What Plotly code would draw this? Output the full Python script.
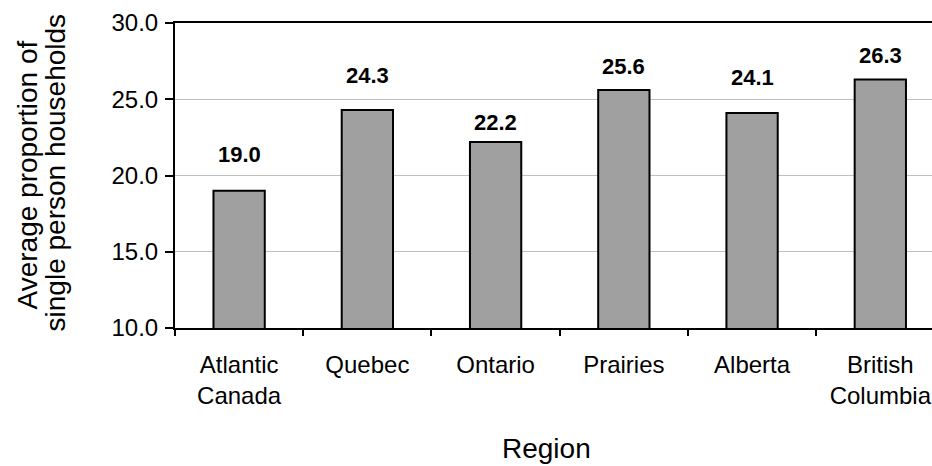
import plotly.graph_objects as go

regions = ["Atlantic<br>Canada", "Quebec", "Ontario", "Prairies", "Alberta", "British<br>Columbia"]
values = [19.0, 24.3, 22.2, 25.6, 24.1, 26.3]
value_labels = ["19.0", "24.3", "22.2", "25.6", "24.1", "26.3"]
y_ticks = [10, 15, 20, 25, 30]
y_tick_labels = ["10.0", "15.0", "20.0", "25.0", "30.0"]

# style: vertical pixel offsets of the value labels above the bars
label_shift = [22, 20, 5, 9, 21, 9]

FONT = "Arial, 'Liberation Sans', sans-serif"

fig = go.Figure()
fig.add_trace(go.Bar(
    x=regions, y=values, width=0.4,
    marker=dict(color="#a0a0a0", line=dict(color="#000000", width=2)),
    hoverinfo="skip",
))

for r, v, lab, s in zip(regions, values, value_labels, label_shift):
    fig.add_annotation(x=r, y=v, xref="x", yref="y", text="<b>%s</b>" % lab,
                       showarrow=False, yanchor="bottom", yshift=s,
                       font=dict(family=FONT, size=22, color="#000"))

W, H = 932, 466
L, R, T, B = 175, 0, 23, 138
pw, ph = W - L - R, H - T - B

def px_x(p):
    return (p - L) / pw

def px_y(p):
    return (H - B - p) / ph

fig.add_annotation(xref="paper", yref="paper", x=px_x(27), y=0.5, text="Average proportion of",
                   textangle=-90, showarrow=False, xanchor="center", yanchor="middle",
                   font=dict(family=FONT, size=28, color="#000"))
fig.add_annotation(xref="paper", yref="paper", x=px_x(55), y=0.51, text="single person households",
                   textangle=-90, showarrow=False, xanchor="center", yanchor="middle",
                   font=dict(family=FONT, size=28, color="#000"))
fig.add_annotation(xref="paper", yref="paper", x=px_x(546), y=px_y(448), text="Region",
                   showarrow=False, xanchor="center", yanchor="middle",
                   font=dict(family=FONT, size=28, color="#000"))

fig.update_layout(
    width=W, height=H,
    margin=dict(l=L, r=R, t=T, b=B, pad=0),
    paper_bgcolor="white", plot_bgcolor="white",
    showlegend=False,
    font=dict(family=FONT, size=24, color="#000"),
    xaxis=dict(
        type="category", range=[-0.5, 5.403],
        showline=True, linecolor="#000", linewidth=2, mirror=True,
        ticks="outside", tickson="boundaries", ticklen=6, tickwidth=2, tickcolor="#000",
        showgrid=False, ticklabelstandoff=14,
        tickfont=dict(family=FONT, size=24, color="#000"),
    ),
    yaxis=dict(
        range=[10, 30], tickvals=y_ticks, ticktext=y_tick_labels,
        showline=True, linecolor="#000", linewidth=2,
        ticks="outside", ticklen=8, tickwidth=2, tickcolor="#000",
        showgrid=True, gridcolor="#c0c0c0", gridwidth=1, zeroline=False,
        ticklabelstandoff=2,
        tickfont=dict(family=FONT, size=24, color="#000"),
    ),
)

fig.write_html("out.html")
